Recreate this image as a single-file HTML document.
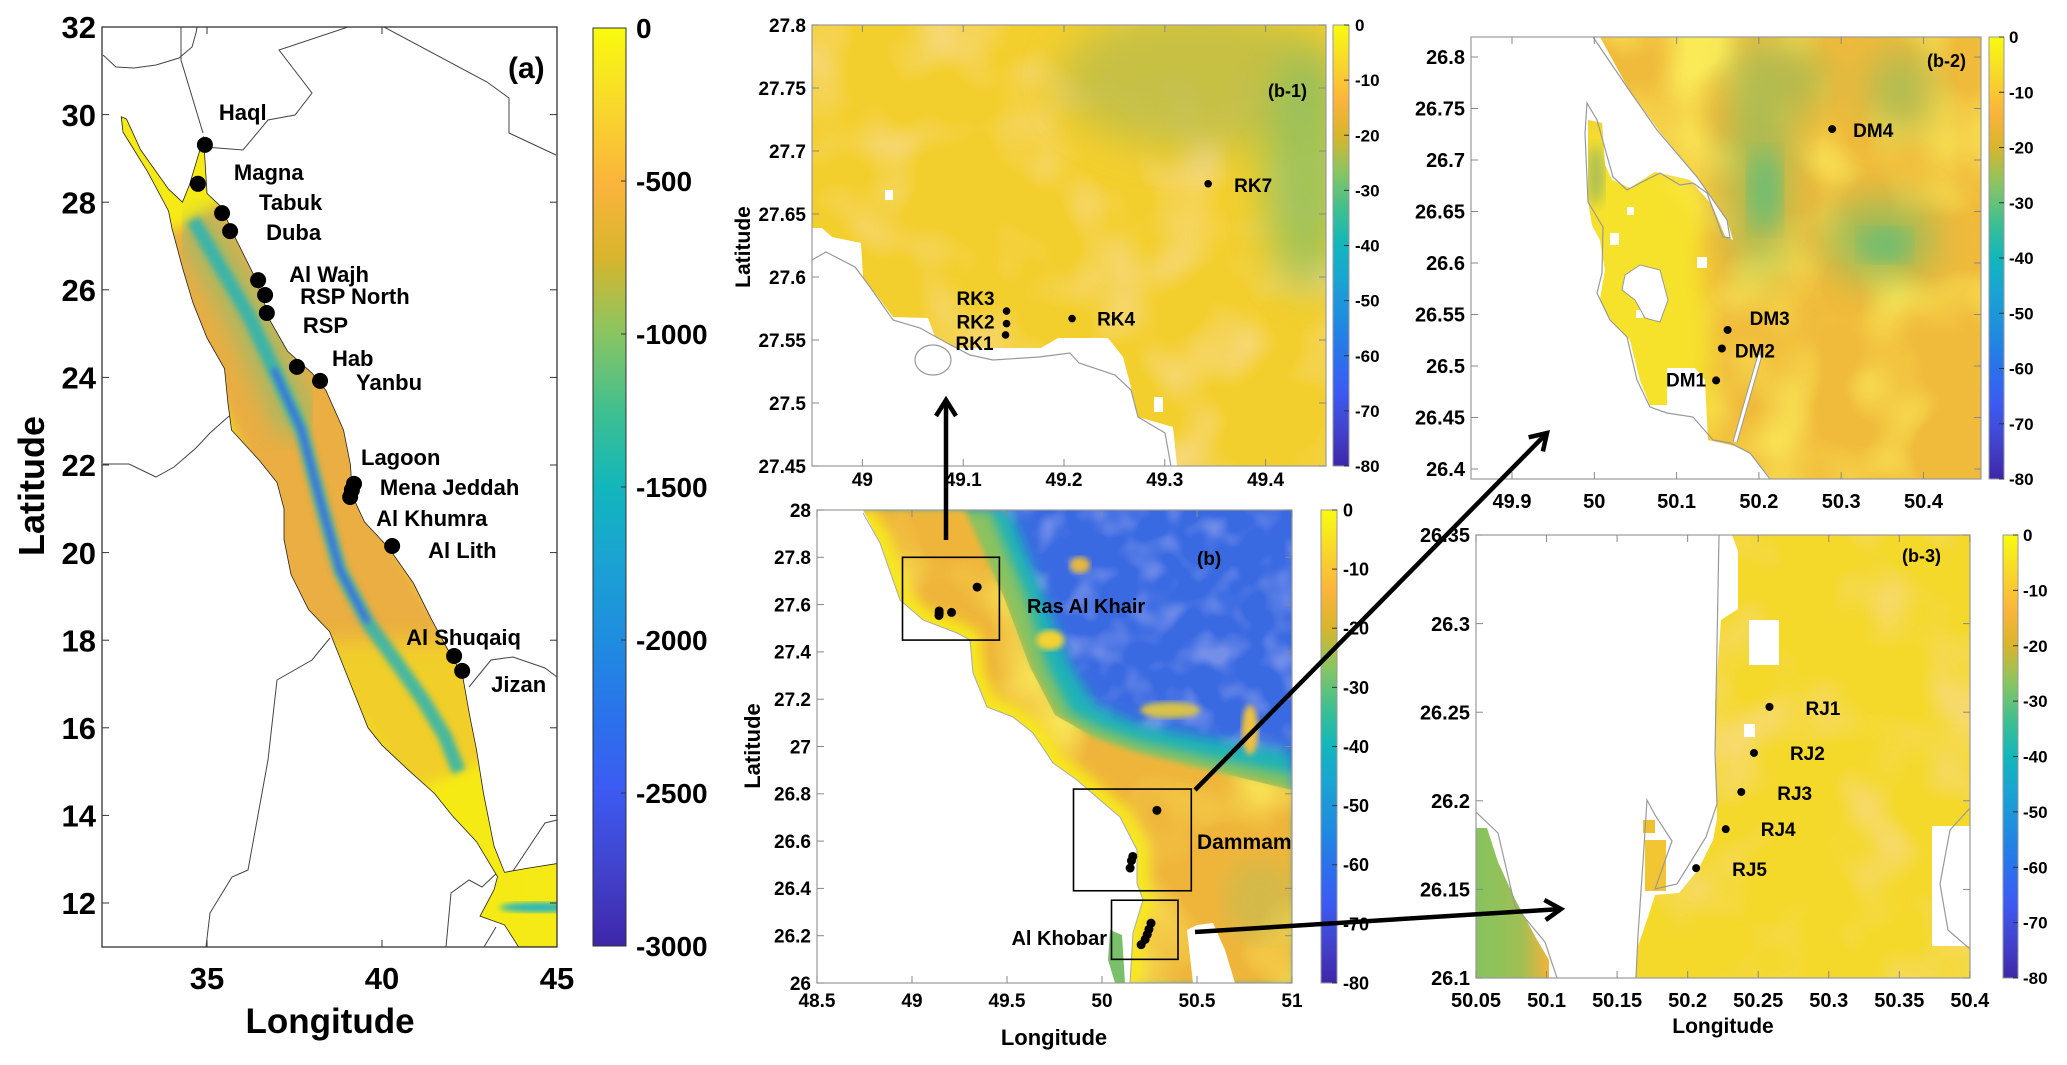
<!DOCTYPE html>
<html><head><meta charset="utf-8"><title>Bathymetry maps</title>
<style>html,body{margin:0;padding:0;background:#fff;}svg{display:block;}</style></head>
<body>
<svg id="fig" xmlns="http://www.w3.org/2000/svg" width="2067" height="1065" viewBox="0 0 2067 1065" font-family="'Liberation Sans', Arial, sans-serif" font-weight="bold">
<defs>
<linearGradient id="parula" x1="0" y1="0" x2="0" y2="1">
<stop offset="0" stop-color="#f9fb0e"/><stop offset="0.08" stop-color="#f8da2a"/><stop offset="0.17" stop-color="#fbb43c"/><stop offset="0.25" stop-color="#d8b52c"/><stop offset="0.33" stop-color="#8cc560"/><stop offset="0.42" stop-color="#3dbf91"/><stop offset="0.5" stop-color="#12b6bc"/><stop offset="0.58" stop-color="#1aa3d3"/><stop offset="0.67" stop-color="#1f8ce0"/><stop offset="0.75" stop-color="#2a72ec"/><stop offset="0.83" stop-color="#3c5bf2"/><stop offset="0.92" stop-color="#4242cc"/><stop offset="1" stop-color="#3e26a8"/>
</linearGradient>
<linearGradient id="greenLeft" x1="0" y1="0" x2="1" y2="0"><stop offset="0" stop-color="#86c35e"/><stop offset="0.6" stop-color="#9dbf55"/><stop offset="1" stop-color="#f0b43c"/></linearGradient>
<filter id="blur3"><feGaussianBlur stdDeviation="3"/></filter>
<filter id="blur6"><feGaussianBlur stdDeviation="6"/></filter>
<filter id="blur12"><feGaussianBlur stdDeviation="12"/></filter>
<filter id="blur20" x="-50%" y="-50%" width="200%" height="200%"><feGaussianBlur stdDeviation="20"/></filter>
<filter id="mottleY" x="0" y="0" width="1" height="1"><feTurbulence type="fractalNoise" baseFrequency="0.011" numOctaves="2" seed="4"/><feColorMatrix type="matrix" values="0 0 0 0 0.98  0 0 0 0 0.93  0 0 0 0 0.12  3 0 0 0 -1.3"/></filter>
<filter id="mottleO" x="0" y="0" width="1" height="1"><feTurbulence type="fractalNoise" baseFrequency="0.013" numOctaves="2" seed="9"/><feColorMatrix type="matrix" values="0 0 0 0 0.93  0 0 0 0 0.70  0 0 0 0 0.24  3 0 0 0 -1.4"/></filter>
<filter id="mottleB" x="0" y="0" width="1" height="1"><feTurbulence type="fractalNoise" baseFrequency="0.03" numOctaves="2" seed="2"/><feColorMatrix type="matrix" values="0 0 0 0 0.27  0 0 0 0 0.35  0 0 0 0 0.85  3 0 0 0 -1.4"/></filter>
<clipPath id="clipA"><rect x="102" y="27" width="455" height="920"/></clipPath>
<clipPath id="clipSea"><polygon id="seaClipPoly" points=""/></clipPath>
<clipPath id="clipB"><rect x="817" y="510" width="475" height="473"/></clipPath>
<clipPath id="clipBOrange"><polygon points="817,510 965,510 1005,600 1030,667 1055,715 1095,738 1135,752 1200,768 1292,790 1292,983 817,983"/></clipPath>
<clipPath id="clipB1"><rect x="812" y="25" width="514" height="441"/></clipPath>
<clipPath id="clipB2"><rect x="1471" y="37" width="510" height="442"/></clipPath>
<clipPath id="clipB3"><rect x="1476" y="535" width="494" height="443"/></clipPath>
</defs>

<!-- ================= PANEL (a) ================= -->
<g id="panelA">
  <g clip-path="url(#clipA)" fill="none" stroke="#444" stroke-width="1">
    <polyline points="103,55 116,67 134,68 156,65 179,58 192,47 196,33 197,27"/>
    <polyline points="181,27 181,60 203,133"/>
    <polyline points="205,147 243,150 268,120 295,115 312,93 279,50 348,27"/>
    <polyline points="384,27 487,82 509,98 509,133 556,155"/>
    <polyline points="103,464 129,464 156,477 174,467 196,448 210,433 228,417 245,405"/>
    <polyline points="330,638 312,660 277,680 268,760 248,870 232,877 210,913 206,947"/>
    <polyline points="446,947 451,893 469,880 482,887 500,870"/>
    <polyline points="469,687 491,660 513,657 545,668 557,677"/>
    <polyline points="509,877 545,823 557,820"/>
    <polyline points="484,947 496,927"/>
  </g>
  <g id="seaLayer" clip-path="url(#clipA)"></g>
  <rect x="102" y="27" width="455" height="920" fill="none" stroke="#333" stroke-width="1.3"/>
  <g id="axesA"></g>
  <g id="sitesA"></g>
  <text x="508" y="78" font-size="30">(a)</text>
  <text x="330" y="1033" font-size="35" text-anchor="middle">Longitude</text>
  <text transform="translate(44,486) rotate(-90)" font-size="36" text-anchor="middle">Latitude</text>
  <rect x="593" y="28" width="33" height="918" fill="url(#parula)" stroke="#333" stroke-width="1"/>
  <g id="cbA"></g>
</g>

<!-- ================= PANEL (b-1) ================= -->
<g id="panelB1">
  <g clip-path="url(#clipB1)">
    <rect x="812" y="25" width="514" height="441" fill="#f3cf2e"/>
    <rect x="812" y="25" width="514" height="441" filter="url(#mottleO)" opacity="0.8"/>
    <ellipse cx="1200" cy="80" rx="140" ry="70" fill="#b3ba4e" opacity="0.7" filter="url(#blur20)"/>
    <ellipse cx="1305" cy="170" rx="40" ry="120" fill="#8cc060" opacity="0.8" filter="url(#blur20)"/>
    <polygon points="812,228 822,228 832,237 861,243 863,277 893,317 928,318 935,337 955,348 1041,348 1058,338 1108,338 1123,357 1131,387 1138,417 1173,427 1177,466 812,466" fill="#fff"/>
    <rect x="1154" y="397" width="9" height="15" fill="#fff"/>
    <rect x="885" y="190" width="8" height="10" fill="#fff"/>
    <polyline points="812,260 826,252 855,267 870,287 893,320 920,328 947,343 970,355 993,360 1039,357 1070,353 1079,363 1115,375 1131,390 1138,417 1165,433 1171,466" fill="none" stroke="#999" stroke-width="1.2"/>
    <ellipse cx="933" cy="360" rx="18" ry="15" fill="none" stroke="#999" stroke-width="1.2"/>
  </g>
  <rect x="812" y="25" width="514" height="441" fill="none" stroke="#999" stroke-width="1.2"/>
  <g id="axesB1"></g>
  <g id="sitesB1"></g>
  <text x="1307" y="97" font-size="18" text-anchor="end">(b-1)</text>
  <text transform="translate(750,247) rotate(-90)" font-size="21" text-anchor="middle">Latitude</text>
  <rect x="1333" y="25" width="16" height="441" fill="url(#parula)" stroke="#999" stroke-width="1"/>
  <g id="cbB1"></g>
</g>

<!-- ================= PANEL (b) ================= -->
<g id="panelB">
  <g clip-path="url(#clipB)">
    <rect x="817" y="510" width="475" height="473" fill="#3a6ae2"/>
    <rect x="817" y="510" width="475" height="473" filter="url(#mottleB)" opacity="0.7"/>
    <polygon points="817,510 1010,510 1045,600 1070,665 1095,705 1140,725 1220,740 1292,752 1292,983 817,983" fill="#1fb3b8" filter="url(#blur6)"/>
    <polygon points="817,510 990,510 1027,600 1047,667 1070,712 1100,728 1140,742 1210,758 1292,775 1292,983 817,983" fill="#8cc25e" filter="url(#blur6)"/>
    <polygon points="817,510 965,510 1005,600 1030,667 1055,715 1095,738 1135,752 1200,768 1292,790 1292,983 817,983" fill="#efb53b" filter="url(#blur3)"/>
    <g clip-path="url(#clipBOrange)"><rect x="817" y="510" width="475" height="473" filter="url(#mottleY)" opacity="0.7"/></g>
    <polyline points="863,513 880,543 900,600 923,620 957,633 970,640 973,673 987,707 1013,717 1033,733 1053,763 1077,780 1100,800 1120,817 1137,850 1137,883 1143,900 1133,933 1130,983" fill="none" stroke="#f7e81c" stroke-width="22" filter="url(#blur6)"/>
    <ellipse cx="1050" cy="640" rx="14" ry="10" fill="#f5d230" filter="url(#blur3)"/>
    <ellipse cx="1080" cy="565" rx="10" ry="8" fill="#e7b83c" filter="url(#blur3)"/>
    <ellipse cx="1250" cy="730" rx="8" ry="25" fill="#f0c040" filter="url(#blur3)"/>
    <ellipse cx="1170" cy="710" rx="30" ry="8" fill="#d8c24a" filter="url(#blur3)"/>
    <ellipse cx="1260" cy="900" rx="35" ry="40" fill="#b9bd56" opacity="0.5" filter="url(#blur12)"/>
    <polygon points="817,510 863,510 880,543 900,600 923,620 957,633 970,640 973,673 987,707 1013,717 1033,733 1053,763 1077,780 1100,800 1120,817 1137,850 1137,883 1143,900 1133,933 1130,983 817,983" fill="#fff"/>
    <polygon points="1110,930 1122,935 1125,983 1115,983 1108,960" fill="#7cbf6a"/>
    <polygon points="1193,983 1187,930 1197,925 1213,923 1225,950 1235,983" fill="#fff"/>
    <polyline points="863,513 880,543 900,600 923,620 957,633 970,640 973,673 987,707 1013,717 1033,733 1053,763 1077,780 1100,800 1120,817 1137,850 1137,883 1143,900 1133,933 1130,983" fill="none" stroke="#aaa" stroke-width="1"/>
  </g>
  <rect x="817" y="510" width="475" height="473" fill="none" stroke="#999" stroke-width="1.2"/>
  <g id="axesB"></g>
  <g id="rectsB"></g>
  <g id="sitesB"></g>
  <text x="1197" y="565" font-size="19">(b)</text>
  <text x="1027" y="613" font-size="20">Ras Al Khair</text>
  <text x="1197" y="849" font-size="21">Dammam</text>
  <text x="1107" y="945" font-size="20" text-anchor="end">Al Khobar</text>
  <text x="1054" y="1045" font-size="22" text-anchor="middle">Longitude</text>
  <text transform="translate(760,746) rotate(-90)" font-size="22" text-anchor="middle">Latitude</text>
  <rect x="1321" y="510" width="16" height="473" fill="url(#parula)" stroke="#999" stroke-width="1"/>
  <g id="cbB"></g>
</g>

<!-- ================= PANEL (b-2) ================= -->
<g id="panelB2">
  <g clip-path="url(#clipB2)">
    <clipPath id="clipB2data"><polygon points="1600,37 1981,37 1981,479 1771,479 1752,455 1735,446 1708,440 1705,380 1695,368 1667,368 1667,405 1650,405 1640,380 1630,340 1612,322 1600,300 1605,270 1600,240 1592,225 1588,200 1588,120 1602,123 1605,165 1612,180 1630,188 1655,172 1690,180 1712,205 1725,236 1733,240 1727,220 1697,177 1660,132 1628,88"/></clipPath>
    <g clip-path="url(#clipB2data)">
      <rect x="1471" y="37" width="510" height="442" fill="#f0ba3a"/>
      <rect x="1471" y="37" width="510" height="442" filter="url(#mottleY)" opacity="0.8"/>
      <polygon points="1580,100 1700,200 1710,360 1700,479 1580,479" fill="#f6e22a" filter="url(#blur12)"/>
      <ellipse cx="1760" cy="160" rx="30" ry="120" fill="#a4bb55" filter="url(#blur20)"/>
      <ellipse cx="1765" cy="190" rx="16" ry="40" fill="#6dbd73" filter="url(#blur12)"/>
      <ellipse cx="1880" cy="240" rx="55" ry="40" fill="#97bb5a" filter="url(#blur20)"/>
      <ellipse cx="1885" cy="245" rx="25" ry="16" fill="#6dbd73" filter="url(#blur12)"/>
      <ellipse cx="1790" cy="80" rx="40" ry="30" fill="#b0ba50" filter="url(#blur20)"/>
      <ellipse cx="1900" cy="90" rx="30" ry="40" fill="#a8bb55" filter="url(#blur20)"/>
      <ellipse cx="1596" cy="175" rx="8" ry="30" fill="#a6bd5a" filter="url(#blur6)"/>
    </g>
    <rect x="1627" y="207" width="7" height="8" fill="#fff"/>
    <rect x="1610" y="233" width="9" height="12" fill="#fff"/>
    <rect x="1697" y="257" width="10" height="11" fill="#fff"/>
    <rect x="1636" y="310" width="7" height="8" fill="#fff"/>
    <polygon points="1625,275 1640,265 1660,270 1668,300 1660,322 1645,318 1635,300 1622,290" fill="#fff" stroke="#999" stroke-width="1"/>
    <polyline points="1593,37 1627,87 1657,130 1697,177 1727,220 1730,238 1723,237 1707,193 1693,183 1680,185 1660,173 1640,183 1627,190 1613,177 1597,120 1587,103 1585,133 1588,202 1603,227 1602,273 1597,293 1610,320 1627,337 1637,380 1650,407 1667,413 1693,417 1713,440 1730,443 1750,453 1770,479" fill="none" stroke="#999" stroke-width="1.2"/>
    <polyline points="1760,355 1735,442" fill="none" stroke="#999" stroke-width="5"/>
    <polyline points="1760,355 1735,442" fill="none" stroke="#fff" stroke-width="3"/>
  </g>
  <rect x="1471" y="37" width="510" height="442" fill="none" stroke="#999" stroke-width="1.2"/>
  <g id="axesB2"></g>
  <g id="sitesB2"></g>
  <text x="1966" y="67" font-size="18" text-anchor="end">(b-2)</text>
  <rect x="1989" y="37" width="15" height="442" fill="url(#parula)" stroke="#999" stroke-width="1"/>
  <g id="cbB2"></g>
</g>

<!-- ================= PANEL (b-3) ================= -->
<g id="panelB3">
  <g clip-path="url(#clipB3)">
    <clipPath id="clipB3data"><polygon points="1732,535 1970,535 1970,826 1932,826 1932,946 1970,946 1970,978 1636,978 1638,946 1647,920 1655,895 1679,893 1698,870 1713,840 1717,819 1715,703 1721,620 1738,609 1738,551"/></clipPath>
    <g clip-path="url(#clipB3data)">
      <rect x="1476" y="535" width="494" height="443" fill="#f4d92a"/>
      <rect x="1476" y="535" width="494" height="443" filter="url(#mottleO)" opacity="0.7"/>
    </g>
    <rect x="1749" y="620" width="30" height="45" fill="#fff"/>
    <rect x="1744" y="724" width="11" height="13" fill="#fff"/>
    <rect x="1643" y="820" width="12" height="13" fill="#f0c030"/>
    <rect x="1645" y="840" width="21" height="51" fill="#f2c632"/>
    <polygon points="1476,828 1487,828 1498,862 1515,899 1536,938 1549,960 1549,978 1476,978" fill="url(#greenLeft)"/>
    <polyline points="1719,535 1715,754 1717,804 1706,837 1677,884 1655,889 1672,841 1655,815 1647,800 1643,862 1638,935 1636,978" fill="none" stroke="#999" stroke-width="1.2"/>
    <polyline points="1476,812 1498,833 1515,906 1545,942 1557,978" fill="none" stroke="#999" stroke-width="1.2"/>
    <polyline points="1970,808 1950,830 1940,884 1948,930 1970,949" fill="none" stroke="#999" stroke-width="1.2"/>
  </g>
  <rect x="1476" y="535" width="494" height="443" fill="none" stroke="#999" stroke-width="1.2"/>
  <g id="axesB3"></g>
  <g id="sitesB3"></g>
  <text x="1941" y="562" font-size="18" text-anchor="end">(b-3)</text>
  <text x="1723" y="1033" font-size="21" text-anchor="middle">Longitude</text>
  <rect x="2003" y="535" width="15" height="443" fill="url(#parula)" stroke="#999" stroke-width="1"/>
  <g id="cbB3"></g>
</g>

<g id="arrows"></g>
</svg>

<script>
// ---------- data ----------
const seaSites = ['Haql','Magna','Tabuk','Duba','Al Wajh','RSP North','RSP','Hab','Yanbu','Lagoon','Mena Jeddah','Al Khumra','Al Lith','Al Shuqaiq','Jizan'];
const seaLon = [34.94,34.74,35.43,35.66,36.46,36.66,36.71,37.57,38.23,39.20,39.14,39.09,40.29,42.06,42.29];
const seaLat = [29.31,28.42,27.75,27.34,26.22,25.88,25.47,24.24,23.92,21.57,21.43,21.27,20.15,17.64,17.30];
const seaLabelDx = [14,36,37,36,31,35,36,35,36,7,28,26,36,-48,29];
const seaLabelDy = [-25,-4,-3,9,2,9,20,-1,9,-19,5,29,12,-11,21];
const aLatTicks = [12,14,16,18,20,22,24,26,28,30,32];
const aLonTicks = [35,40,45];
const cbATicks = [0,-500,-1000,-1500,-2000,-2500,-3000];

const rkNames = ['RK3','RK2','RK1','RK4','RK7'];
const rkLon = [49.143,49.143,49.142,49.208,49.343];
const rkLat = [27.573,27.563,27.554,27.567,27.674];
const dmNames = ['DM4','DM3','DM2','DM1'];
const dmLon = [50.289,50.162,50.155,50.148];
const dmLat = [26.730,26.535,26.517,26.486];
const rjNames = ['RJ1','RJ2','RJ3','RJ4','RJ5'];
const rjLon = [50.258,50.247,50.238,50.227,50.206];
const rjLat = [26.253,26.227,26.205,26.184,26.162];

const b1LonTicks = [49,49.1,49.2,49.3,49.4];
const b1LatTicks = [27.45,27.5,27.55,27.6,27.65,27.7,27.75,27.8];
const bLonTicks = [48.5,49,49.5,50,50.5,51];
const bLatTicks = [26,26.2,26.4,26.6,26.8,27,27.2,27.4,27.6,27.8,28];
const b2LonTicks = [49.9,50,50.1,50.2,50.3,50.4];
const b2LatTicks = [26.4,26.45,26.5,26.55,26.6,26.65,26.7,26.75,26.8];
const b3LonTicks = [50.05,50.1,50.15,50.2,50.25,50.3,50.35,50.4];
const b3LatTicks = [26.1,26.15,26.2,26.25,26.3,26.35];
const cbBTicks = [0,-10,-20,-30,-40,-50,-60,-70,-80];
const b1Extent = [48.95,49.46,27.45,27.8];
const b2Extent = [49.85,50.47,26.39,26.82];
const b3Extent = [50.05,50.4,26.1,26.35];

const seaOutline = [[34.9,29.5],[35.0,28.2],[35.4,27.9],[35.8,27.2],[36.3,26.4],[36.6,25.8],[36.8,25.3],[37.3,24.6],[38.0,24.1],[38.4,23.7],[38.9,22.8],[39.1,22.0],[39.15,21.3],[39.5,20.7],[40.2,20.1],[40.9,19.3],[41.4,18.5],[41.8,17.9],[42.3,17.2],[42.5,16.3],[42.7,15.5],[42.9,14.5],[43.2,13.3],[43.5,12.7],[44.2,12.8],[45,12.9],[45,11],[43.9,11],[43.5,11.5],[42.8,11.7],[43.2,12.3],[43.3,12.6],[42.7,13.4],[42.0,14.0],[41.5,14.5],[40.8,15.0],[40.0,15.6],[39.6,16.0],[39.2,16.8],[38.8,17.6],[38.5,18.2],[37.9,18.7],[37.4,19.5],[37.2,20.3],[37.2,21.0],[37.0,21.6],[36.5,22.1],[35.7,22.8],[35.6,23.4],[35.5,24.2],[35.0,24.9],[34.6,25.7],[34.3,26.5],[34.0,27.4],[33.9,27.8],[33.3,28.7],[32.6,29.6],[32.55,29.95],[32.7,29.9],[33.1,29.2],[33.9,28.3],[34.3,28.0],[34.5,28.4],[34.8,29.2]];
const seaAxis = [[34.6,27.6],[35.4,26.5],[36.2,25.4],[36.9,24.2],[37.7,22.8],[38.3,21.0],[38.8,19.6],[39.6,18.4],[40.5,17.4],[41.2,16.6],[41.8,15.8],[42.2,15.0]];

// ---------- helpers ----------
const NS='http://www.w3.org/2000/svg';
function mk(tag, parent){ const e=document.createElementNS(NS,tag); parent.appendChild(e); return e; }
function fmt(v){ return String(v); }
const ax = lon => 102 + 35*(lon-32);
const ay = lat => 27 + 43.8*(32-lat);
const bx = lon => 817 + 190*(lon-48.5);
const by = lat => 510 + 236.5*(28-lat);
const b1x = lon => 812 + 1008*(lon-48.95);
const b1y = lat => 25 + 1260*(27.8-lat);
const b2x = lon => 1512 + 823*(lon-49.9);
const b2y = lat => 57 + 1030*(26.8-lat);
const b3x = lon => 1476 + 1411*(lon-50.05);
const b3y = lat => 535 + 1772*(26.35-lat);

function axes(gid, box, lonT, latT, fx, fy, fs, xoff, tickColor){
  const g=document.getElementById(gid);
  const [x0,y0,x1,y1]=box;
  lonT.forEach(v=>{
    const x=fx(v);
    const t=mk('line',g); t.setAttribute('x1',x); t.setAttribute('x2',x); t.setAttribute('y1',y1); t.setAttribute('y2',y1-7); t.setAttribute('stroke',tickColor);
    
    
    const t2=mk('line',g); t2.setAttribute('x1',x); t2.setAttribute('x2',x); t2.setAttribute('y1',y0); t2.setAttribute('y2',y0+7); t2.setAttribute('stroke',tickColor);
    
    
    const l=mk('text',g); l.setAttribute('x',x); l.setAttribute('y',y1+xoff); l.setAttribute('font-size',fs); l.setAttribute('text-anchor','middle'); l.textContent=fmt(v);
    
    
  });
  latT.forEach(v=>{
    const y=fy(v);
    const t=mk('line',g); t.setAttribute('x1',x0); t.setAttribute('x2',x0+7); t.setAttribute('y1',y); t.setAttribute('y2',y); t.setAttribute('stroke',tickColor);
    
    
    const t2=mk('line',g); t2.setAttribute('x1',x1); t2.setAttribute('x2',x1-7); t2.setAttribute('y1',y); t2.setAttribute('y2',y); t2.setAttribute('stroke',tickColor);
    
    
    const l=mk('text',g); l.setAttribute('x',x0-6); l.setAttribute('y',y+fs*0.36); l.setAttribute('font-size',fs); l.setAttribute('text-anchor','end'); l.textContent=fmt(v);
    
    
  });
}
function colorbar(gid, x, y0, y1, ticks, fs, lx){
  const g=document.getElementById(gid);
  const mn=ticks[ticks.length-1];
  ticks.forEach(v=>{
    const y=y0+(y1-y0)*(v/mn);
    const t=mk('line',g); t.setAttribute('x1',x-5); t.setAttribute('x2',x); t.setAttribute('y1',y); t.setAttribute('y2',y); t.setAttribute('stroke','#333');
    
    
    const l=mk('text',g); l.setAttribute('x',lx); l.setAttribute('y',y+fs*0.36); l.setAttribute('font-size',fs); l.textContent=fmt(v);
    
    
  });
}
function sites(gid, names, lons, lats, fx, fy, r, fs, dxArr, dyArr, anchors, withLabels){
  const g=document.getElementById(gid);
  names.forEach((n,i)=>{
    const x=fx(lons[i]), y=fy(lats[i]);
    const c=mk('circle',g); c.setAttribute('cx',x); c.setAttribute('cy',y); c.setAttribute('r',r); c.setAttribute('fill','#000');
    
    
    if(withLabels===false) return;
    const t=mk('text',g); t.setAttribute('x',x+dxArr[i]); t.setAttribute('y',y+dyArr[i]); t.setAttribute('font-size',fs);
    if(anchors && anchors[i]) t.setAttribute('text-anchor',anchors[i]);
    t.textContent=n;
    
    
  });
}

// ---------- panel a sea ----------
(function(){
  const pts = seaOutline.map(p=>ax(p[0])+','+ay(p[1])).join(' ');
  document.getElementById('seaClipPoly').setAttribute('points',pts);
  const layer=document.getElementById('seaLayer');
  const base=mk('polygon',layer); base.setAttribute('points',pts); base.setAttribute('fill','#f6ea16');
  
  
  const inner=mk('g',layer); inner.setAttribute('clip-path','url(#clipSea)');
  const axisPts = seaAxis.map(p=>ax(p[0])+','+ay(p[1])).join(' ');
  const o=mk('polyline',inner); o.setAttribute('points',axisPts); o.setAttribute('fill','none'); o.setAttribute('stroke','#eaae42'); o.setAttribute('stroke-width','125'); o.setAttribute('stroke-linejoin','round'); o.setAttribute('filter','url(#blur6)');
  
  
  const so=mk('polygon',inner); so.setAttribute('points',[[38,18.0],[43.5,18.0],[43.5,11],[38,11]].map(p=>ax(p[0])+','+ay(p[1])).join(' ')); so.setAttribute('fill','#f6ea16'); so.setAttribute('opacity','0.55'); so.setAttribute('filter','url(#blur12)');
  
  
  const tn=mk('polyline',inner); tn.setAttribute('points',seaAxis.slice(0,5).map(p=>ax(p[0])+','+ay(p[1])).join(' ')); tn.setAttribute('fill','none'); tn.setAttribute('stroke','#7fbf7a'); tn.setAttribute('stroke-width','45'); tn.setAttribute('stroke-linejoin','round'); tn.setAttribute('opacity','0.6'); tn.setAttribute('filter','url(#blur12)');
  
  
  const tl=mk('polyline',inner); tl.setAttribute('points',axisPts); tl.setAttribute('fill','none'); tl.setAttribute('stroke','#2bb4b4'); tl.setAttribute('stroke-width','14'); tl.setAttribute('stroke-linejoin','round'); tl.setAttribute('opacity','0.85'); tl.setAttribute('filter','url(#blur3)');
  
  
  const bl=mk('polyline',inner); bl.setAttribute('points',seaAxis.slice(3,8).map(p=>ax(p[0])+','+ay(p[1])).join(' ')); bl.setAttribute('fill','none'); bl.setAttribute('stroke','#3c62ea'); bl.setAttribute('stroke-width','5'); bl.setAttribute('filter','url(#blur3)');
  
  
  const aden=mk('ellipse',inner); aden.setAttribute('cx',ax(44.5)); aden.setAttribute('cy',ay(11.9)); aden.setAttribute('rx',40); aden.setAttribute('ry',5); aden.setAttribute('fill','#27b6bb'); aden.setAttribute('filter','url(#blur3)');
  
  
  const ol=mk('polygon',layer); ol.setAttribute('points',pts); ol.setAttribute('fill','none'); ol.setAttribute('stroke','#222'); ol.setAttribute('stroke-width','0.8');
  
  
})();

axes('axesA',[102,27,557,947],aLonTicks,aLatTicks,ax,ay,31,42,'#333');
colorbar('cbA',626,28,946,cbATicks,28,636);
sites('sitesA',seaSites,seaLon,seaLat,ax,ay,8,22,seaLabelDx,seaLabelDy,null,true);

axes('axesB1',[812,25,1326,466],b1LonTicks,b1LatTicks,b1x,b1y,19,20,'#888');
colorbar('cbB1',1349,25,466,cbBTicks,17,1355);
sites('sitesB1',rkNames,rkLon,rkLat,b1x,b1y,3.8,19,[-12,-12,-12,25,26],[-6,5,15,7,8],['end','end','end',null,null],true);

axes('axesB',[817,510,1292,983],bLonTicks,bLatTicks,bx,by,19,24,'#888');
colorbar('cbB',1337,510,983,cbBTicks,18,1343);
sites('sitesB',rkNames,rkLon,rkLat,bx,by,4.5,1,null,null,null,false);
sites('sitesB',dmNames,dmLon,dmLat,bx,by,4.5,1,null,null,null,false);
sites('sitesB',rjNames,rjLon,rjLat,bx,by,4.5,1,null,null,null,false);

axes('axesB2',[1471,37,1981,479],b2LonTicks,b2LatTicks,b2x,b2y,20,29,'#888');
colorbar('cbB2',2004,37,479,cbBTicks,17,2009);
sites('sitesB2',dmNames,dmLon,dmLat,b2x,b2y,4,19,[21,22,13,-10],[8,-5,9,6],[null,null,null,'end'],true);

axes('axesB3',[1476,535,1970,978],b3LonTicks,b3LatTicks,b3x,b3y,20,29,'#888');
colorbar('cbB3',2018,535,978,cbBTicks,17,2023);
sites('sitesB3',rjNames,rjLon,rjLat,b3x,b3y,4,19,[36,36,36,35,36],[8,7,8,7,8],null,true);

(function(){
  const g=document.getElementById('rectsB');
  [b1Extent,b2Extent,b3Extent].forEach((e,i)=>{
    const r=mk('rect',g);
    r.setAttribute('x',bx(e[0])); r.setAttribute('y',by(e[3]));
    r.setAttribute('width',bx(e[1])-bx(e[0])); r.setAttribute('height',by(e[2])-by(e[3]));
    r.setAttribute('fill','none'); r.setAttribute('stroke','#000'); r.setAttribute('stroke-width','1.6');
    
    
  });
})();

(function(){
  const g=document.getElementById('arrows');
  const list=[[946,540,946,400],[1195,790,1547,433],[1195,932,1561,909]];
  list.forEach((a,i)=>{
    const [x1,y1,x2,y2]=a;
    const ln=mk('line',g); ln.setAttribute('x1',x1); ln.setAttribute('y1',y1); ln.setAttribute('x2',x2); ln.setAttribute('y2',y2); ln.setAttribute('stroke','#000'); ln.setAttribute('stroke-width','4.5');
    
    
    const dx=x2-x1, dy=y2-y1, L=Math.hypot(dx,dy), ux=dx/L, uy=dy/L;
    const bxp=x2-ux*16, byp=y2-uy*16, px=-uy*10, py=ux*10;
    const h=mk('polyline',g); h.setAttribute('points',(bxp+px)+','+(byp+py)+' '+x2+','+y2+' '+(bxp-px)+','+(byp-py)); h.setAttribute('fill','none'); h.setAttribute('stroke','#000'); h.setAttribute('stroke-width','4.5'); h.setAttribute('stroke-linejoin','miter');
    
    
  });
})();
</script>
</body></html>
